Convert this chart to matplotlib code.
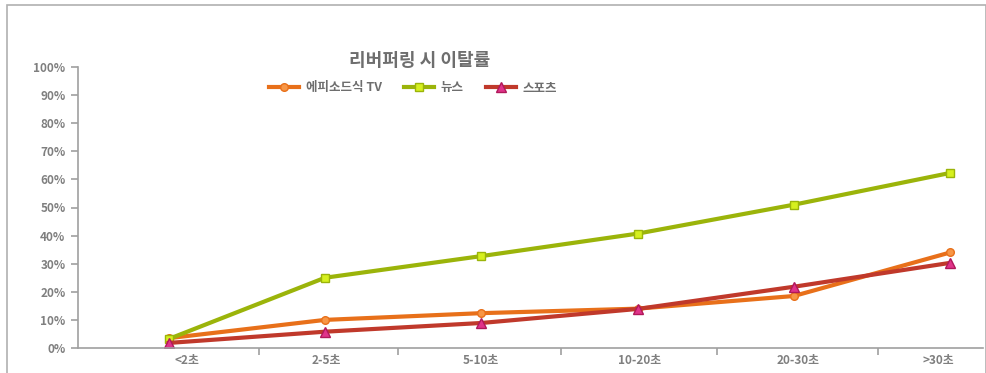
import matplotlib
matplotlib.use("Agg")
import matplotlib.pyplot as plt
from matplotlib.patches import Rectangle
import matplotlib.transforms as mtransforms

plt.rcParams['font.family'] = ['Noto Sans CJK KR', 'DejaVu Sans']

categories = ['<2초', '2-5초', '5-10초', '10-20초', '20-30초', '>30초']
episode_tv = [3.5, 10.0, 12.4, 14.0, 18.5, 34.0]
news = [3.2, 25.0, 32.7, 40.7, 51.0, 62.3]
sports = [1.8, 5.8, 8.9, 13.9, 21.8, 30.3]
series_names = ['에피소드식 TV', '뉴스', '스포츠']
title = '리버퍼링 시 이탈률'
yticks = list(range(0, 101, 10))

fig = plt.figure(figsize=(9.87, 3.73), dpi=100)
fig.patches.append(Rectangle((7/987, -0.01), 979/987, 1 - 5/373 + 0.01, transform=fig.transFigure,
                             fill=False, edgecolor='#B0B0B0', linewidth=1.2))
ax = fig.add_axes([78/987, 1 - 348/373, (983 - 78)/987, (348 - 67)/373])

x = list(range(len(categories)))
grey = '#7F7F7F'
l1, = ax.plot(x, episode_tv, color='#E8701A', lw=3, marker='o', ms=5.5,
              mfc='#F79646', mec='#E8701A', mew=1, label=series_names[0])
l2, = ax.plot(x, news, color='#9BB40A', lw=3, marker='s', ms=5.5,
              mfc='#D6F01E', mec='#9BB40A', mew=1, label=series_names[1])
l3, = ax.plot(x, sports, color='#C0392B', lw=3, marker='^', ms=6.5,
              mfc='#E0338A', mec='#B0185A', mew=1, label=series_names[2])

ax.set_xlim(-0.58, 5.21)
ax.set_ylim(0, 100)
ax.set_yticks(yticks)
ax.set_yticklabels([f'{v}%' for v in yticks], fontsize=8.5, fontweight='bold', color=grey)
ax.set_xticks(x)
ax.set_xticklabels(categories, fontsize=8.5, fontweight='bold', color=grey)
ax.tick_params(axis='x', which='major', length=0, pad=4)
ax.set_xticks([0.58, 1.47, 2.51, 3.51, 4.54], minor=True)
ax.tick_params(axis='x', which='minor', length=5, color='#A0A0A0', width=1.2)
ax.tick_params(axis='y', length=5, color='#A0A0A0', width=1.2, pad=4)
offsets = [18, 1, 0, 2, 4, -12]
for lab, dx in zip(ax.get_xticklabels(), offsets):
    lab.set_transform(lab.get_transform() + mtransforms.ScaledTranslation(dx/100, 0, fig.dpi_scale_trans))
for s in ['top', 'right']:
    ax.spines[s].set_visible(False)
for s in ['left', 'bottom']:
    ax.spines[s].set_color('#A0A0A0')
    ax.spines[s].set_linewidth(1.2)
ax.patch.set_alpha(0)

fig.text(420/987, 1 - 60/373, title, ha='center', va='center', fontsize=13,
         fontweight='bold', color='#6E6E6E')
leg = fig.legend(handles=[l1, l2, l3], loc='center', bbox_to_anchor=(413/987, 1 - 88/373),
                 ncol=3, frameon=False, fontsize=9, handlelength=2.4, columnspacing=1.8,
                 handletextpad=0.5)
for t in leg.get_texts():
    t.set_color('#6E6E6E')
    t.set_fontweight('bold')

fig.savefig('out.png', dpi=100)
